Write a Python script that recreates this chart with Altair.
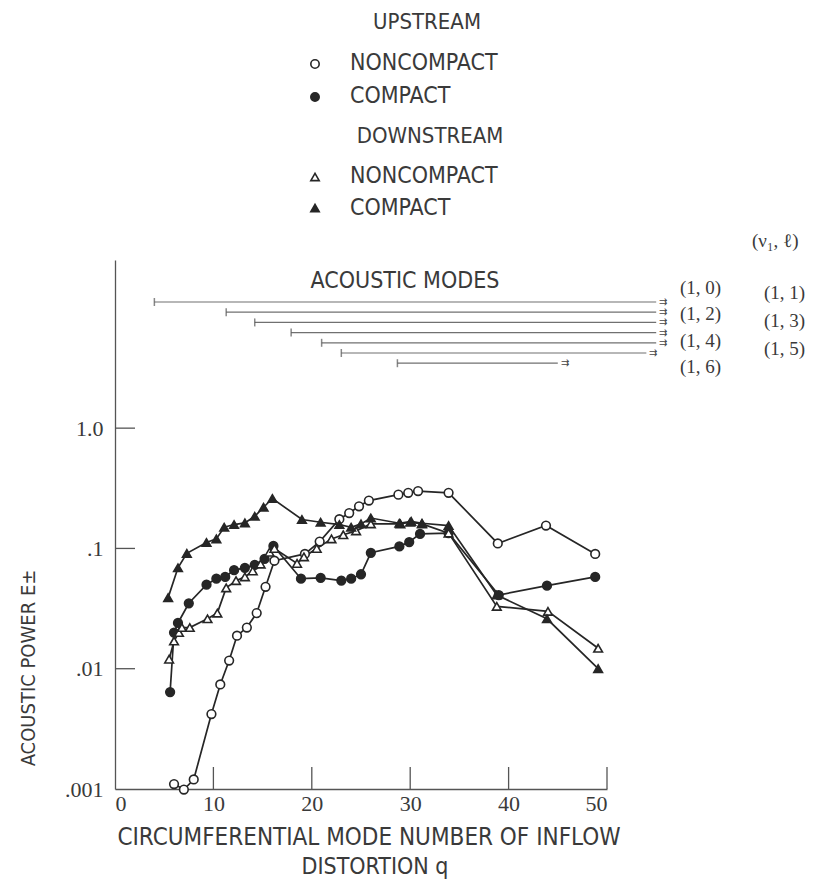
import altair as alt
import pandas as pd

# ---------------- data ----------------
up_noncompact_q = [6, 7, 8, 9.8, 10.7, 11.6, 12.4, 13.4, 14.4, 15.3, 16.2, 19.3, 20.8,
                   22.8, 23.8, 24.8, 25.8, 28.8, 29.8, 30.8, 33.9, 38.9, 43.8, 48.8]
up_noncompact_e = [0.0011, 0.00099, 0.0012, 0.0042, 0.0074, 0.0117, 0.0188, 0.022, 0.029,
                   0.048, 0.079, 0.09, 0.114, 0.175, 0.197, 0.224, 0.25, 0.28, 0.29, 0.30,
                   0.29, 0.11, 0.155, 0.09]

up_compact_q = [5.6, 6.0, 6.4, 7.5, 9.3, 10.3, 11.2, 12.1, 13.2, 14.2, 15.2, 16.1, 18.9,
                20.9, 23.0, 24.0, 25.0, 26.0, 28.9, 29.9, 31.0, 33.9, 39.0, 43.9, 48.8]
up_compact_e = [0.0064, 0.02, 0.024, 0.035, 0.050, 0.056, 0.058, 0.066, 0.069, 0.073,
                0.082, 0.105, 0.056, 0.057, 0.054, 0.056, 0.061, 0.092, 0.104, 0.113,
                0.132, 0.134, 0.041, 0.049, 0.058]

dn_noncompact_q = [5.5, 6.0, 6.5, 6.8, 7.6, 9.4, 10.4, 11.3, 12.3, 13.2, 14.0, 14.8, 15.7,
                   16.2, 18.5, 19.2, 20.5, 22.0, 23.2, 24.5, 26.0, 29.0, 30.0, 31.2, 33.9,
                   38.8, 44.0, 49.1]
dn_noncompact_e = [0.012, 0.017, 0.020, 0.022, 0.022, 0.026, 0.029, 0.047, 0.054, 0.058,
                   0.065, 0.074, 0.093, 0.10, 0.075, 0.085, 0.10, 0.12, 0.13, 0.14, 0.16,
                   0.16, 0.165, 0.16, 0.134, 0.033, 0.030, 0.0148]

dn_compact_q = [5.4, 6.4, 7.3, 9.3, 10.3, 11.1, 12.1, 13.2, 14.2, 15.1, 16.0, 19.0, 20.9,
                22.8, 24.0, 25.0, 26.0, 28.9, 30.1, 31.2, 33.9, 38.8, 43.9, 49.1]
dn_compact_e = [0.039, 0.069, 0.091, 0.112, 0.12, 0.15, 0.158, 0.163, 0.185, 0.22, 0.26,
                0.174, 0.165, 0.158, 0.15, 0.16, 0.179, 0.162, 0.168, 0.162, 0.155, 0.041,
                0.026, 0.010]

# acoustic modes (1, l): q range of each horizontal bar
mode_names = ["(1, 0)", "(1, 1)", "(1, 2)", "(1, 3)", "(1, 4)", "(1, 5)", "(1, 6)"]
mode_start = [4.0, 11.3, 14.2, 17.9, 21.0, 23.0, 28.7]
mode_end = [55, 55, 55, 55, 55, 54, 45]

x_ticks = [0, 10, 20, 30, 40, 50]
y_ticks = [0.001, 0.01, 0.1, 1.0]

# ---------------- layout (pixels) ----------------
X0, Y0 = 115, 260          # page position of plot origin
W, H = 492, 529
INK = "#262626"
TXT = "#3a3a3a"
SANS = "Liberation Sans Narrow, DejaVu Sans Condensed, Roboto, sans-serif"
SERIF = "Liberation Serif, DejaVu Serif, serif"


def px(x):
    return x - X0


def py(y):
    return y - Y0


series_names = ["up_nc", "up_c", "dn_nc", "dn_c"]
frames = []
for name, qs, es in [("up_nc", up_noncompact_q, up_noncompact_e),
                     ("up_c", up_compact_q, up_compact_e),
                     ("dn_nc", dn_noncompact_q, dn_noncompact_e),
                     ("dn_c", dn_compact_q, dn_compact_e)]:
    frames.append(pd.DataFrame({"series": name, "q": qs, "E": es}))
df = pd.concat(frames, ignore_index=True)

xs = alt.Scale(domain=[0, 50], nice=False, zero=False)
ys = alt.Scale(type="log", domain=[0.001, 25], nice=False)

lines = alt.Chart(df).mark_line(color=INK, strokeWidth=1.7).encode(
    x=alt.X("q:Q", scale=xs,
            axis=alt.Axis(values=x_ticks, title=None, ticks=False, grid=False,
                          labelFont=SERIF, labelFontSize=22, labelColor=TXT,
                          labelPadding=4, domainColor="#555", domainWidth=1.3)),
    y=alt.Y("E:Q", scale=ys,
            axis=alt.Axis(values=y_ticks, title=None, ticks=False, grid=False,
                          labelExpr="datum.value >= 1 ? '1.0' : datum.value >= 0.1 ? '.1' : datum.value >= 0.01 ? '.01' : '.001'",
                          labelFont=SERIF, labelFontSize=22, labelColor=TXT,
                          labelPadding=12, domainColor="#555", domainWidth=1.3)),
    detail="series:N",
    order="q:Q",
)

points = alt.Chart(df).mark_point(filled=False, strokeWidth=1.6, size=75, opacity=1).encode(
    x=alt.X("q:Q", scale=xs),
    y=alt.Y("E:Q", scale=ys),
    shape=alt.Shape("series:N", scale=alt.Scale(domain=series_names,
                    range=["circle", "circle", "triangle-up", "triangle-up"]), legend=None),
    fill=alt.Fill("series:N", scale=alt.Scale(domain=series_names,
                  range=["white", INK, "white", INK]), legend=None),
    stroke=alt.value(INK),
)

# inward ticks
xt = pd.DataFrame({"q": x_ticks[1:]})
xtick = alt.Chart(xt).mark_rule(color="#555", strokeWidth=1.3).encode(
    x=alt.X("q:Q", scale=xs), y=alt.value(H), y2=alt.value(H - 22))
yt = pd.DataFrame({"E": y_ticks[1:]})
ytick = alt.Chart(yt).mark_rule(color="#555", strokeWidth=1.3).encode(
    y=alt.Y("E:Q", scale=ys), x=alt.value(0), x2=alt.value(20))

# acoustic mode bars
MODE_TOP, MODE_GAP = 302, 10.2
modes = pd.DataFrame({"mode": mode_names, "start": mode_start, "end": mode_end,
                      "ypx": [py(MODE_TOP + i * MODE_GAP) for i in range(len(mode_names))]})
mode_rules = alt.Chart(modes).mark_rule(color="#707070", strokeWidth=1.2).encode(
    x=alt.X("start:Q", scale=xs), x2="end:Q", y=alt.Y("ypx:Q", scale=None))
mode_start_ticks = alt.Chart(modes).mark_tick(color="#555", thickness=1.5, size=8,
                                              orient="vertical").encode(
    x=alt.X("start:Q", scale=xs), y=alt.Y("ypx:Q", scale=None))
mode_arrows = alt.Chart(modes).mark_text(text="⇉", fontSize=10, color="#444",
                                         align="left", baseline="middle", dx=3).encode(
    x=alt.X("end:Q", scale=xs), y=alt.Y("ypx:Q", scale=None))

# annotations (text + legend)
label_pos = {
    "(1, 0)": (680, 288), "(1, 1)": (764, 293), "(1, 2)": (680, 314),
    "(1, 3)": (764, 321), "(1, 4)": (680, 341), "(1, 5)": (764, 349),
    "(1, 6)": (680, 367),
}
ann_rows = []
for k, (x, y) in label_pos.items():
    ann_rows.append({"t": k, "x": px(x), "y": py(y), "font": SERIF, "size": 19, "align": "left"})
ann_rows.append({"t": "(ν₁, ℓ)", "x": px(752), "y": py(241), "font": SERIF, "size": 19, "align": "left"})
ann_rows.append({"t": "ACOUSTIC MODES", "x": px(405), "y": py(281), "font": SANS, "size": 23, "align": "center"})
ann_rows.append({"t": "UPSTREAM", "x": px(427), "y": py(22), "font": SANS, "size": 22, "align": "center"})
ann_rows.append({"t": "NONCOMPACT", "x": px(350), "y": py(63), "font": SANS, "size": 23, "align": "left"})
ann_rows.append({"t": "COMPACT", "x": px(350), "y": py(96), "font": SANS, "size": 23, "align": "left"})
ann_rows.append({"t": "DOWNSTREAM", "x": px(430), "y": py(136), "font": SANS, "size": 22, "align": "center"})
ann_rows.append({"t": "NONCOMPACT", "x": px(350), "y": py(176), "font": SANS, "size": 23, "align": "left"})
ann_rows.append({"t": "COMPACT", "x": px(350), "y": py(208), "font": SANS, "size": 23, "align": "left"})
ann_rows.append({"t": "CIRCUMFERENTIAL MODE NUMBER OF INFLOW", "x": px(369), "y": py(838), "font": SANS, "size": 24, "align": "center"})
ann_rows.append({"t": "DISTORTION  q", "x": px(375), "y": py(867), "font": SANS, "size": 23, "align": "center"})
ann = pd.DataFrame(ann_rows)

texts = []
for (font, size, align), g in ann.groupby(["font", "size", "align"]):
    texts.append(alt.Chart(g).mark_text(font=font, fontSize=size, align=align,
                                        baseline="middle", color=TXT).encode(
        x=alt.X("x:Q", scale=None), y=alt.Y("y:Q", scale=None), text="t:N"))

ytitle = alt.Chart(pd.DataFrame({"t": ["ACOUSTIC POWER  E±"]})).mark_text(
    font=SANS, fontSize=20, angle=270, color=TXT, align="center", baseline="middle").encode(
    x=alt.value(px(29)), y=alt.value(py(668)), text="t:N")

leg = pd.DataFrame({"series": series_names,
                    "x": [px(315)] * 4,
                    "y": [py(64), py(97), py(177), py(208)]})
leg_pts = alt.Chart(leg).mark_point(filled=False, strokeWidth=1.6, size=70, opacity=1).encode(
    x=alt.X("x:Q", scale=None), y=alt.Y("y:Q", scale=None),
    shape=alt.Shape("series:N", scale=alt.Scale(domain=series_names,
                    range=["circle", "circle", "triangle-up", "triangle-up"]), legend=None),
    fill=alt.Fill("series:N", scale=alt.Scale(domain=series_names,
                  range=["white", INK, "white", INK]), legend=None),
    stroke=alt.value(INK),
)

chart = alt.layer(
    mode_rules, mode_start_ticks, mode_arrows, xtick, ytick, lines, points,
    ytitle, leg_pts, *texts
).properties(
    width=W, height=H,
    background="white",
    padding={"left": X0 - 8, "top": Y0 - 8, "right": 200, "bottom": 95},
    autosize=alt.AutoSizeParams(type="none"),
).configure_view(stroke=None, strokeWidth=0)

chart.save("out.html", embed_options={"renderer": "svg", "actions": False})
